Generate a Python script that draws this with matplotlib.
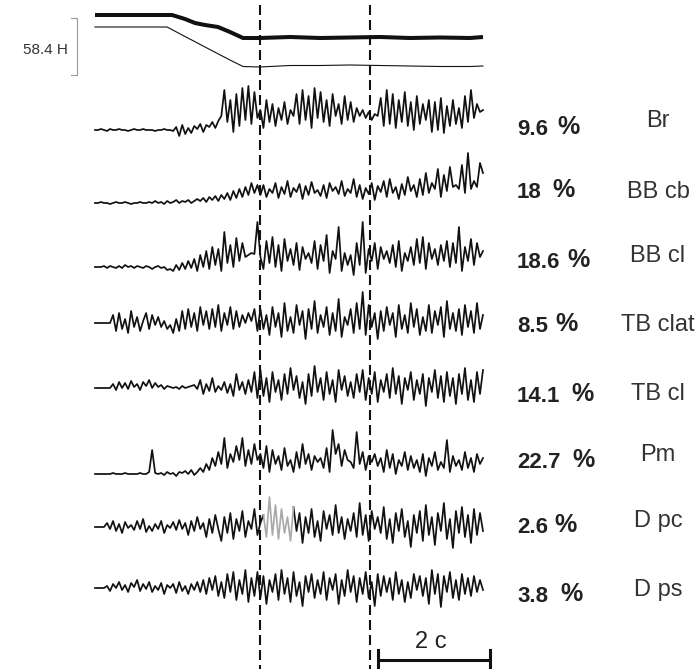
import numpy as np
import matplotlib.pyplot as plt

plt.rcParams['font.family'] = ['Liberation Sans', 'DejaVu Sans']

# force curves, drawn in pixel units of the figure
force_x = [95, 140, 167, 172, 185, 195, 205, 218, 230, 243, 260, 290, 320, 350, 380, 410, 440, 470, 483]
force_thick = [15, 15, 15, 15, 19, 23, 25, 27, 32, 38, 38, 37, 38, 37.5, 37, 38, 37.5, 38, 37]
force_thin = [27, 27, 27, 29.6, 36.5, 41.7, 47, 53.8, 60, 66.5, 67, 65.5, 65.5, 65, 65.5, 66, 66.5, 66.5, 66]

# EMG traces, deflection (px, up positive) from each baseline
emg_br = [0, 0, 1, 0, -1, 1, 0, 0, 1, 0, 0, -1, 0, 1, 0, 0, 1, 0, 0, 0, -1, 0, 0, 1, 0, 0, -1,
          3, -6, 5, -4, 2, -3, 4, 1, 6, -2, 5, 3, 8, 2, 9,
          14, 40, 8, 30, -2, 36, 4, 42, 10, 44, 6, 38, 12,
          20, 2, 30, 8, 26, 4, 22, 10, 28, 6, 20,
          14, 36, 6, 40, 10, 34, 2, 42, 12, 38, 8, 30, 4, 36, 14,
          26, 6, 34, 10, 28, 8, 22, 14, 20, 12, 18, 10, 16, 14,
          32, 4, 40, 6, 36, 2, 30, 8, 38, 4, 28, 0, 34, 6, 26, 10,
          30, -2, 28, 0, 32, -3, 24, 4, 30, 6, 22, 2, 34, 8, 40, 12, 26, 18, 20]

emg_bb_cb = [0, 0, 1, 0, 0, -1, 0, 1, 0, 0, 1, 0, -1, 0, 0, 1, 0, 0, 1, 0, 2, 0, 1, -1, 2, 0, 1, 3, 0, 2, 1, 3, 0, 2, 4,
             2, 5, 1, 6, 3, 7, 2, 8, 4, 10, 3, 12, 5, 14, 6, 16, 8, 20, 10, 18,
             8, 18, 6, 14, 10, 20, 5, 16, 9, 22, 6, 15, 11, 19, 4, 17, 8, 21, 10, 13,
             7, 18, 5, 20, 12, 16, 9, 22, 7, 14, 10, 24, 6, 18, 4, 15, 9, 20, 3, 17,
             11, 22, 6, 24, 10, 16, 4, 19, 8, 26, 12, 18, 6,
             24, 8, 30, 10, 20, 14, 34, 6, 28, 12, 36, 16, 18, 14, 38, 10, 50, 14, 22, 16, 40, 30]

emg_bb_cl = [0, 0, 0, 1, -1, 1, 0, -1, 1, -1, 2, 0, 1, -1, 1, 0, -1, 1, 0, -2, 0, 1, -1, 0, -3, -2, -4,
             2, -3, 4, -2, 6, -1, 8, -4, 12, 0, 16, -2, 20, 2, 18, -4, 35, 4, 22, 0, 29, 6, 24, 10, 12, 14, 13, 45,
             10, -2, 26, 4, 30, 0, 22, -4, 28, 6, 18, 2, 24, -3, 20, 8, 14, 4, 26, -2,
             22, 6, 32, -6, 16, 8, 40, -4, 14, 2, 12, -8, 24, 2, 45, -6, 18, 6, 24, -2,
             20, 8, 16, 4, 22, 0, 26, -4, 14, 6, 20, 2, 28, 4, 30, -2, 24, 8, 18, 2,
             22, 6, 26, 0, 24, 4, 40, -4, 20, 6, 28, 2, 24, 10, 16]

emg_tb_clat = [0, 0, 0, 0, 0, 0,
               8, -8, 10, -6, 4, -10, 12, -4, 6, -8, 2, 10, -6, 8, -2, 6, -4, 2, -6, -2,
               -10, 4, -8, 12, -6, 14, -4, 10, -8, 16, -2, 12, -6, 14, -4, 18, -8, 10, -2, 16,
               -6, 12, -4, 8, 0, 10, 2, 14, -8,
               14, -6, 8, -12, 16, -4, 10, -14, 20, -8, 6, -10, 18, -2, 12, -16, 14, -6, 22, -10,
               8, -4, 16, -12, 10, -8, 24, -14, 6, -2, 14, -10, 20, -6, 31, -12, 18, -4, 10, -16,
               12, -8, 16, -2, 10, -14, 18, -6, 8, -10, 20, -4, 14, -12, 6, -8, 18, -10, 12, -2,
               16, -14, 22, -6, 10, -8, 14, -12, 18, -4, 12, -10, 20, -6, 8]

emg_tb_cl = [0, 0, 0, 0, 0, 0,
             4, -2, 6, 0, 5, -1, 7, 1, 4, -2, 6, 2, 8, 0, 5, 1, 3, -1, 2, 1, 0,
             1, -1, 2, 0, 1, 2, 3, -1, 8, -6, 4, -3, 10, -4, 2, -2, 6, -5,
             4, -8, 14, -2, 6, -6, 8, -4, 16, -10,
             18, -8, 10, -14, 16, -4, 8, -12, 14, -6, 20, -2, 12, -10, 6, -16, 14, -8, 22, -4,
             10, -12, 16, -6, 8, -14, 18, -2, 12, -8, 6, -10, 14, -4, 18, -12, 10, -6, 16, -14,
             8, -4, 14, -10, 20, -6, 12, -16, 10, -2, 16, -12, 8, -6, 14, -18, 10, -4, 18, -10,
             12, -14, 16, -8, 10, -16, 14, -6, 20, -12, 8, -14, 16, -6, 18]

emg_pm = [0, 0, 0, 0, 0, 0, 1, 0, 0, 0, 1, 0, 0, 0, 0, 1, 0, 0,
          2, 24, 1,
          0, 1, -1, 2, 0, 1, -2, 2, 1, 3, 0, 4, -1, 2,
          6, 2, 10, 4, 16, 8, 22, 10, 36, 6, 20, 12, 28, 14, 36, 8, 24, 10, 30, 14,
          20, 6, 28, 2, 24, 10, 18, 4, 26, 8, 14, 2, 22, 6, 30, 10, 20, 4, 18, 12,
          16, 6, 26, 2, 44, 20, 30, 8, 24, 14, 12, 6, 42, 10, 22, 4, 18, 12, 20, 8,
          16, 2, 24, 6, 20, 0, 14, 8, 22, 4, 18, 6, 14, 2, 20, -2, 16, 8, 22, 4,
          12, 6, 34, 2, 18, 8, 14, 4, 22, 6, 16, 2, 20, 10, 16]

emg_d_pc = [0, 0, 0, 0,
            4, -2, 6, -4, 3, -6, 5, -1, 2, -3, 6, -2, 8, -5, 1, -4, 3, -2, 6, -6, 2, -1, 5, -3, 7, -2, 4, -8,
            6, -4, 10, -2, 4, -10, 8, -6, 12, -2, -14, 10, -6, 14, -12, 8, -4, 16, -10, 6, -2, 18, -8, 4,
            12, -10, 30, -8, 22, -12, 18, -6, 10, -14,
            20, -4, 14, -16, 10, -6, 18, -10, 6, -14, 16, -2, 12, -8, 22, -6, 10, -12, 8, -4,
            14, -10, 24, -8, 12, -14, 16, -2, 10, -6, 20, -12, 8, -16, 14, -4, 18, -10, 6, -20,
            12, -6, 16, -14, 22, -8, 10, -18, 14, -4, 24, -12, 8, -21, 16, -6, 20, -10, 12, -16,
            18, -8, 14, -4]

emg_d_ps = [0, 0, 0, 0,
            2, -3, 4, 0, 6, -2, 3, -4, 5, 1, 8, -3, 4, -1, 6, -4, 2, -2, 5, -6, 3, 0, 4, -5, 6, -3, 2, -6, 4, -2, 6,
            -4, 8, -6, 10, -2, 12, -8, 6, -10, 14, -4, 16, -12, 8, -6, 18, -14, 10, -8, 16,
            -10, 12, -16, 8, -4, 14, -12, 18, -6, 10, -14, 16, -8, 6, -18, 12, -4, 14, -10, 8,
            -6, 16, -12, 10, -2, 14, -16, 8, -8, 18, -4, 12, -14, 10, -6, 16, -10, 6, -18, 14,
            -8, 12, -4, 10, -12, 16, -6, 8, -14, 6, -10, 14, -2, 12, -8, 10, -16, 18, -6, 14,
            -19, 12, -4, 16, -10, 8, -12, 14, -6, 10, -8, 12, -4, 8, -2]

emg = [emg_br, emg_bb_cb, emg_bb_cl, emg_tb_clat, emg_tb_cl, emg_pm, emg_d_pc, emg_d_ps]
names = ['Br', 'BB cb', 'BB cl', 'TB clat', 'TB cl', 'Pm', 'D pc', 'D ps']
percents = ['9.6', '18', '18.6', '8.5', '14.1', '22.7', '2.6', '3.8']

# layout
baselines = [130, 203, 267, 323, 388, 474, 527, 588]
pct_y = [135, 198, 268, 332, 402, 468, 533, 602]
name_y = [127, 198, 262, 331, 400, 461, 527, 596]
pct_sign_x = [557, 552, 567, 555, 571, 572, 554, 560]
dash_x = [260, 370]
gray_part = (56, 67)   # part of D pc drawn in grey

fig = plt.figure(figsize=(7, 6.69), dpi=100)
ax = fig.add_axes([0, 0, 1, 1])
ax.set_xlim(0, 700)
ax.set_ylim(669, 0)
ax.axis('off')

# force
ax.plot(force_x, force_thick, color='#111111', lw=2.9, solid_capstyle='butt')
ax.plot(force_x, force_thin, color='#111111', lw=0.8)
ax.plot([71, 77, 77, 71], [18, 18, 75, 75], color='#999999', lw=0.8)
ax.text(68, 50, '58.4 H', ha='right', va='center', fontsize=11, color='#333333')

# EMG
for i in range(len(emg)):
    x = np.linspace(95, 483, len(emg[i]))
    y = baselines[i] - np.array(emg[i], dtype=float)
    if names[i] == 'D pc':
        a, b = gray_part
        yb = y.copy()
        yb[a + 1:b - 1] = np.nan
        ax.plot(x, yb, color='#111111', lw=1.25)
        ax.plot(x[a:b], y[a:b], color='#aaaaaa', lw=1.25)
    else:
        ax.plot(x, y, color='#111111', lw=1.25)
    ax.text(517, pct_y[i], percents[i], ha='left', va='baseline', fontsize=16,
            fontweight='bold', color='#222222')
    ax.text(pct_sign_x[i], pct_y[i] - 1, '%', ha='left', va='baseline', fontsize=18,
            fontweight='bold', color='#222222')
    ax.text(658, name_y[i], names[i], ha='center', va='baseline', fontsize=17, color='#333333')

for xd in dash_x:
    ax.plot([xd, xd], [5, 669], color='#111111', lw=1.5, linestyle=(0, (4.8, 2.4)))

# time bar
ax.plot([378, 490], [660, 660], color='#111111', lw=2.2, solid_capstyle='butt')
ax.plot([378, 378], [650, 669], color='#111111', lw=2.2)
ax.plot([490, 490], [650, 669], color='#111111', lw=2.2)
ax.text(431, 648, '2 c', ha='center', va='baseline', fontsize=17, color='#222222')

fig.savefig('out.png', dpi=100)
